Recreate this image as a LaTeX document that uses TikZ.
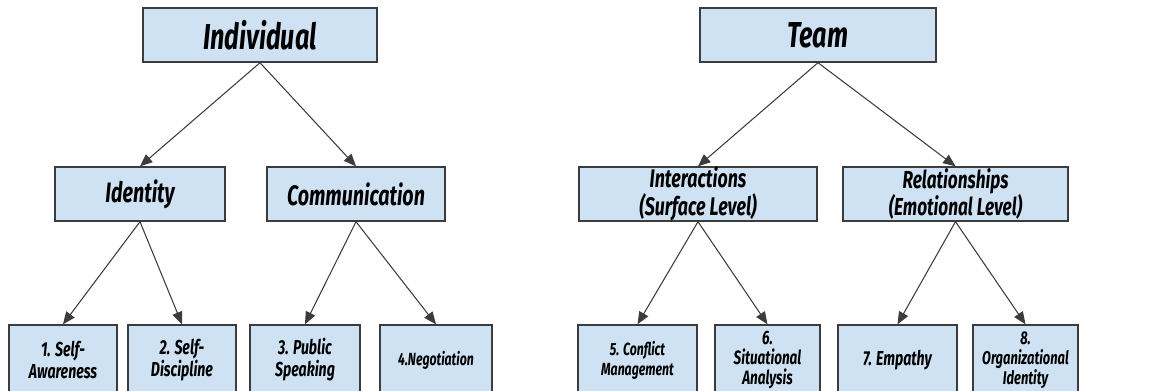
\documentclass[tikz,border=0pt]{standalone}
\usepackage{fontspec}
\setmainfont{Fira Sans}[FakeStretch=0.7]
\usetikzlibrary{arrows}
\definecolor{boxblue}{RGB}{207,226,243}
\definecolor{linegray}{RGB}{60,60,60}

\begin{document}
\begin{tikzpicture}[x=0.02cm,y=-0.02cm,>=triangle 45]
            \useasboundingbox (0,0) rectangle (1167,390);
            \clip (0,0) rectangle (1167,390);
            \tikzstyle{every node} = [rectangle,fill=boxblue,draw=linegray,line width=0.8pt,
                inner sep=0pt,align=center,font=\bfseries\itshape];
            \tikzstyle{top} = [minimum height=1.08cm,font=\bfseries\itshape\fontsize{20.5}{22}\selectfont];
            \tikzstyle{mid} = [minimum height=1.08cm,font=\bfseries\itshape\fontsize{16}{17}\selectfont];
            \tikzstyle{leaf} = [minimum height=1.4cm,font=\bfseries\itshape\fontsize{11.5}{12.5}\selectfont];
            % top level
            \node[top,minimum width=4.68cm] (ind) at (260,35) {Individual};
            \node[top,minimum width=4.72cm] (team) at (818,35) {Team};
            % second level
            \node[mid,minimum width=3.4cm] (idn) at (140,194) {Identity};
            \node[mid,minimum width=3.56cm] (com) at (356,194) {Communication};
            \node[mid,minimum width=4.76cm,font=\bfseries\itshape\fontsize{14.5}{15.5}\selectfont] (int) at (698,194) {Interactions\\(Surface Level)};
            \node[mid,minimum width=4.5cm,font=\bfseries\itshape\fontsize{14}{15.5}\selectfont] (rel) at (955.5,194) {Relationships\\(Emotional Level)};
            % leaves
            \node[leaf,minimum width=2.16cm] (sa) at (63,360) {1. Self-\\Awareness};
            \node[leaf,minimum width=2.16cm] (sd) at (182,360) {2. Self-\\Discipline};
            \node[leaf,minimum width=2.2cm] (ps) at (305,360) {3. Public\\Speaking};
            \node[leaf,minimum width=2.24cm,font=\bfseries\itshape\fontsize{10}{11}\selectfont] (neg) at (436,360) {4.Negotiation};
            \node[leaf,minimum width=2.38cm,font=\bfseries\itshape\fontsize{10}{11.5}\selectfont] (cm) at (637.5,360) {5. Conflict\\Management};
            \node[leaf,minimum width=2.1cm,font=\bfseries\itshape\fontsize{11}{11.3}\selectfont] (sit) at (767.5,360) {6.\\Situational\\Analysis};
            \node[leaf,minimum width=2.38cm] (emp) at (897.5,360) {7. Empathy};
            \node[leaf,minimum width=2.1cm,font=\bfseries\itshape\fontsize{10.5}{11.3}\selectfont] (org) at (1025.5,360) {8.\\Organizational\\Identity};
            % arrows
            \tikzstyle{every node} = [];
            \tikzstyle{link} = [->,draw=linegray,line width=0.6pt];
            \draw[link] (ind.south) -- (idn.north);
            \draw[link] (ind.south) -- (com.north);
            \draw[link] (team.south) -- (int.north);
            \draw[link] (team.south) -- (rel.north);
            \draw[link] (idn.south) -- (sa.north);
            \draw[link] (idn.south) -- (sd.north);
            \draw[link] (com.south) -- (ps.north);
            \draw[link] (com.south) -- (neg.north);
            \draw[link] (int.south) -- (cm.north);
            \draw[link] (int.south) -- (sit.north);
            \draw[link] (rel.south) -- (emp.north);
            \draw[link] (rel.south) -- (org.north);
        \end{tikzpicture}
\end{document}
